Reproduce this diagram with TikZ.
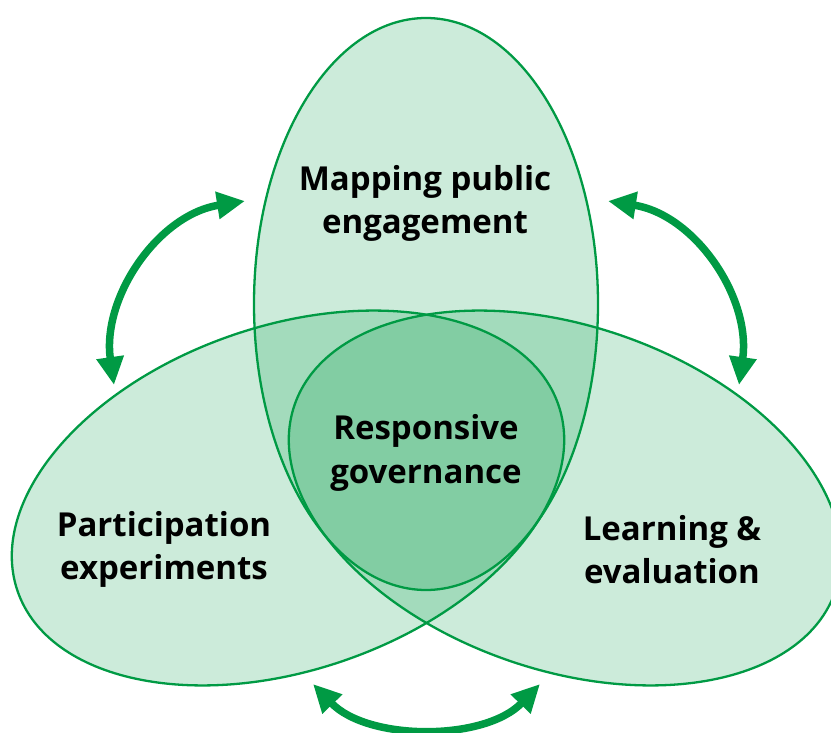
\documentclass[tikz,border=0pt]{standalone}
\usepackage{fontspec}
\setmainfont{Open Sans}
\usetikzlibrary{arrows.meta}
\definecolor{vgreen}{RGB}{0,154,68}
\tikzset{
  blob/.style={fill=vgreen, fill opacity=0.2, draw=none},
  rim/.style={draw=vgreen, line width=2.3pt},
  lbl/.style={font=\fontsize{33}{39}\selectfont\bfseries, anchor=base, inner sep=0pt, text=black},
  cycarrow/.style={draw=vgreen, line width=7.5pt,
    {Triangle[length=28pt,width=26pt]}-{Triangle[length=28pt,width=26pt]}},
}
\begin{document}
\begin{tikzpicture}[x=1pt,y=-1pt]
\useasboundingbox (0,0) rectangle (831,733);
\clip (0,0) rectangle (831,733);
% fills
\fill[blob] (426,304) ellipse[x radius=172pt, y radius=286pt];
\fill[blob, rotate around={19:(288,498)}] (288,498) ellipse[x radius=286pt, y radius=172pt];
\fill[blob, rotate around={-19:(565,498)}] (565,498) ellipse[x radius=286pt, y radius=172pt];
% outlines
\draw[rim] (426,304) ellipse[x radius=172pt, y radius=286pt];
\draw[rim, rotate around={19:(288,498)}] (288,498) ellipse[x radius=286pt, y radius=172pt];
\draw[rim, rotate around={-19:(565,498)}] (565,498) ellipse[x radius=286pt, y radius=172pt];
% labels
\node[lbl] (map1) at (425,191) {Mapping public};
\node[lbl] (map2) at (425,234) {engagement};
\node[lbl] (res1) at (426,439) {Responsive};
\node[lbl] (res2) at (426,483) {governance};
\node[lbl] (par1) at (164,536) {Participation};
\node[lbl] (par2) at (164,579) {experiments};
\node[lbl] (lea1) at (672,540) {Learning \&};
\node[lbl] (lea2) at (672,583) {evaluation};
% arrows
\coordinate (tl1) at (245,201);
\coordinate (tl2) at (114,385);
\coordinate (tr1) at (608,201);
\coordinate (tr2) at (739,385);
\coordinate (bl) at (313,684);
\coordinate (br) at (540,684);
\draw[cycarrow] (tl1) to[out=189, in=98] (tl2);
\draw[cycarrow] (tr1) to[out=-9, in=82] (tr2);
\draw[cycarrow] (bl) to[out=-46, in=226, looseness=0.9] (br);
\end{tikzpicture}
\end{document}
